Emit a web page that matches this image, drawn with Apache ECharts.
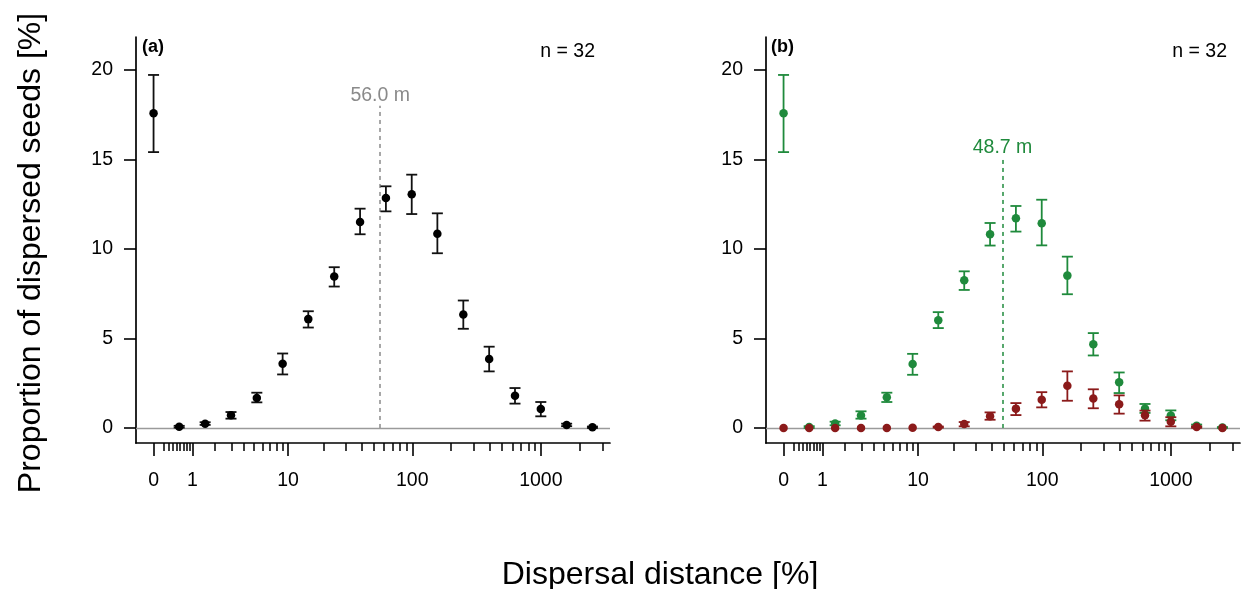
<!DOCTYPE html>
<html>
<head>
<meta charset="utf-8">
<script src="https://cdn.jsdelivr.net/npm/echarts@6/dist/echarts.min.js"></script>
<style>html,body{margin:0;padding:0;background:#fff}#c{width:1248px;height:589px}</style>
</head>
<body>
<div id="c"></div>
<script>
// Distance bins (m), bin centres
const distances = [0, 0.58, 1.51, 2.98, 5.31, 9, 14.8, 24.1, 38.8, 62.1, 99, 157, 250, 397, 630, 999, 1584, 2511];
// Panel (a): all seeds
const meanA = [17.58, 0.07, 0.24, 0.71, 1.67, 3.59, 6.08, 8.46, 11.5, 12.85, 13.05, 10.85, 6.34, 3.85, 1.8, 1.06, 0.17, 0.04];
const lowA  = [15.41, 0.02, 0.17, 0.52, 1.43, 2.99, 5.61, 7.9, 10.82, 12.1, 11.95, 9.76, 5.54, 3.16, 1.36, 0.65, 0.1, 0.0];
const highA = [19.72, 0.12, 0.32, 0.89, 1.97, 4.16, 6.52, 8.98, 12.25, 13.5, 14.15, 11.99, 7.12, 4.54, 2.23, 1.45, 0.24, 0.08];
// Panel (b): green series
const meanG = [17.58, 0.05, 0.25, 0.7, 1.71, 3.57, 6.02, 8.25, 10.82, 11.72, 11.43, 8.51, 4.68, 2.55, 1.08, 0.7, 0.13, 0.02];
const lowG  = [15.41, 0.0, 0.15, 0.52, 1.45, 2.97, 5.58, 7.71, 10.19, 10.97, 10.2, 7.47, 4.05, 1.95, 0.84, 0.43, 0.07, 0.0];
const highG = [19.72, 0.1, 0.35, 0.93, 1.97, 4.14, 6.47, 8.75, 11.45, 12.4, 12.75, 9.57, 5.3, 3.1, 1.34, 0.98, 0.19, 0.05];
// Panel (b): red series
const meanR = [0, 0, 0, 0, 0, 0.01, 0.05, 0.22, 0.65, 1.08, 1.58, 2.36, 1.65, 1.32, 0.71, 0.35, 0.05, 0];
const lowR  = [0, 0, 0, 0, 0, 0, 0.02, 0.09, 0.46, 0.72, 1.15, 1.52, 1.1, 0.8, 0.41, 0.09, 0.01, 0];
const highR = [0, 0, 0, 0, 0, 0.02, 0.08, 0.33, 0.87, 1.39, 2.0, 3.16, 2.16, 1.82, 0.97, 0.6, 0.09, 0];
// Medians (m)
const medianA = 56.0;
const medianB = 48.7;
const nLabel = 'n = 32';
// Axis ticks
const majorTicks = [0, 1, 10, 100, 1000];
const minorTicks = [0.2, 0.3, 0.4, 0.5, 0.6, 0.7, 0.8, 0.9, 2, 3, 4, 5, 6, 7, 8, 9, 20, 30, 40, 50, 60, 70, 80, 90, 200, 300, 400, 500, 600, 700, 800, 900, 2000, 3000];
const yTicks = [0, 5, 10, 15, 20];

const FONT = '"Liberation Sans", Arial, Helvetica, sans-serif';
const GREEN = '#1f8a3c';
const RED = '#8b1a1a';
const GREY = '#8a8a8a';
const tf = d => Math.log10(d + 1);
const X_MIN = -0.136, X_MAX = 3.536, Y_MIN = -0.84, Y_MAX = 21.84;

const chart = echarts.init(document.getElementById('c'), null, {renderer: 'canvas'});

function xAxesFor(gi) {
  return [
    {
      type: 'value', gridIndex: gi, min: X_MIN, max: X_MAX, position: 'bottom',
      axisLine: {show: true, onZero: false, lineStyle: {color: '#000', width: 1.7}},
      axisTick: {show: true, length: 13, lineStyle: {color: '#000', width: 1.6}, customValues: majorTicks.map(tf)},
      axisLabel: {show: true, margin: 28, fontSize: 19.5, color: '#000', fontFamily: FONT,
        customValues: majorTicks.map(tf),
        formatter: v => String(Math.round(Math.pow(10, v) - 1))},
      splitLine: {show: false}
    },
    {
      type: 'value', gridIndex: gi, min: X_MIN, max: X_MAX, position: 'bottom',
      axisLine: {show: false, onZero: false},
      axisTick: {show: true, length: 8, lineStyle: {color: '#000', width: 1.5}, customValues: minorTicks.map(tf)},
      axisLabel: {show: false},
      splitLine: {show: false}
    }
  ];
}
function yAxisFor(gi) {
  return {
    type: 'value', gridIndex: gi, min: Y_MIN, max: Y_MAX,
    axisLine: {show: true, onZero: false, lineStyle: {color: '#000', width: 1.7}},
    axisTick: {show: true, length: 12, lineStyle: {color: '#000', width: 1.6}, customValues: yTicks},
    axisLabel: {show: true, margin: 23, fontSize: 19.5, color: '#000', fontFamily: FONT, customValues: yTicks},
    splitLine: {show: false}
  };
}

function errSeries(name, xi, yi, lo, hi, color, z) {
  return {
    name, type: 'custom', xAxisIndex: xi, yAxisIndex: yi, z,
    data: distances.map((d, i) => [tf(d), lo[i], hi[i]]),
    renderItem: function (params, api) {
      const x = api.value(0);
      const p1 = api.coord([x, api.value(1)]);
      const p2 = api.coord([x, api.value(2)]);
      if (Math.abs(p1[1] - p2[1]) < 0.5) return null;
      const w = 5.5;
      const st = {stroke: color, lineWidth: 1.8};
      return {
        type: 'group',
        children: [
          {type: 'line', shape: {x1: p1[0], y1: p1[1], x2: p2[0], y2: p2[1]}, style: st},
          {type: 'line', shape: {x1: p1[0] - w, y1: p1[1], x2: p1[0] + w, y2: p1[1]}, style: st},
          {type: 'line', shape: {x1: p2[0] - w, y1: p2[1], x2: p2[0] + w, y2: p2[1]}, style: st}
        ]
      };
    }
  };
}
function ptSeries(name, xi, yi, mean, color, z) {
  return {
    name, type: 'scatter', xAxisIndex: xi, yAxisIndex: yi, z,
    symbol: 'circle', symbolSize: 8.5,
    itemStyle: {color: color, opacity: 1},
    data: distances.map((d, i) => [tf(d), mean[i]])
  };
}
function refSeries(name, xi, yi, median, top, color, label) {
  return {
    name, type: 'line', xAxisIndex: xi, yAxisIndex: yi, data: [], silent: true,
    markLine: {
      silent: true, symbol: 'none', z: 1, animation: false,
      data: [
        {yAxis: 0, lineStyle: {color: '#9a9a9a', width: 1.4, type: 'solid'}, label: {show: false}},
        [
          {coord: [tf(median), 0], lineStyle: {color: color, width: 1.5, type: [4, 4]},
           label: {show: true, position: 'end', distance: 3, lineHeight: 14, formatter: label, color: color, fontSize: 19.5, fontFamily: FONT}},
          {coord: [tf(median), top]}
        ]
      ]
    }
  };
}

const option = {
  animation: false,
  backgroundColor: '#fff',
  grid: [
    {left: 136, top: 37, width: 474, height: 406, containLabel: false},
    {left: 766, top: 37, width: 474, height: 406, containLabel: false}
  ],
  xAxis: [...xAxesFor(0), ...xAxesFor(1)],
  yAxis: [yAxisFor(0), yAxisFor(1)],
  series: [
    refSeries('refA', 0, 0, medianA, 18.0, GREY, medianA.toFixed(1) + ' m'),
    errSeries('errA', 0, 0, lowA, highA, '#111', 2),
    ptSeries('A', 0, 0, meanA, '#000', 3),
    refSeries('refB', 2, 1, medianB, 15.1, GREEN, medianB.toFixed(1) + ' m'),
    errSeries('errG', 2, 1, lowG, highG, GREEN, 2),
    ptSeries('G', 2, 1, meanG, GREEN, 3),
    errSeries('errR', 2, 1, lowR, highR, RED, 4),
    ptSeries('R', 2, 1, meanR, RED, 5)
  ],
  graphic: [
    {type: 'text', x: 142, y: 47, style: {text: '(a)', font: 'bold 18px ' + FONT, fill: '#000', textAlign: 'left', textVerticalAlign: 'middle', align: 'left', verticalAlign: 'middle'}},
    {type: 'text', x: 595, y: 52, style: {text: nLabel, font: '19.5px ' + FONT, fill: '#000', textAlign: 'right', textVerticalAlign: 'middle', align: 'right', verticalAlign: 'middle'}},
    {type: 'text', x: 771, y: 47, style: {text: '(b)', font: 'bold 18px ' + FONT, fill: '#000', textAlign: 'left', textVerticalAlign: 'middle', align: 'left', verticalAlign: 'middle'}},
    {type: 'text', x: 1227, y: 52, style: {text: nLabel, font: '19.5px ' + FONT, fill: '#000', textAlign: 'right', textVerticalAlign: 'middle', align: 'right', verticalAlign: 'middle'}},
    {type: 'text', x: 31, y: 253, rotation: Math.PI / 2, style: {text: 'Proportion of dispersed seeds [%]', font: '32px ' + FONT, fill: '#000', textAlign: 'center', textVerticalAlign: 'middle', align: 'center', verticalAlign: 'middle'}},
    {type: 'text', x: 660, y: 575, style: {text: 'Dispersal distance [%]', font: '32px ' + FONT, fill: '#000', textAlign: 'center', textVerticalAlign: 'middle', align: 'center', verticalAlign: 'middle'}}
  ]
};
chart.setOption(option);
</script>
</body>
</html>
